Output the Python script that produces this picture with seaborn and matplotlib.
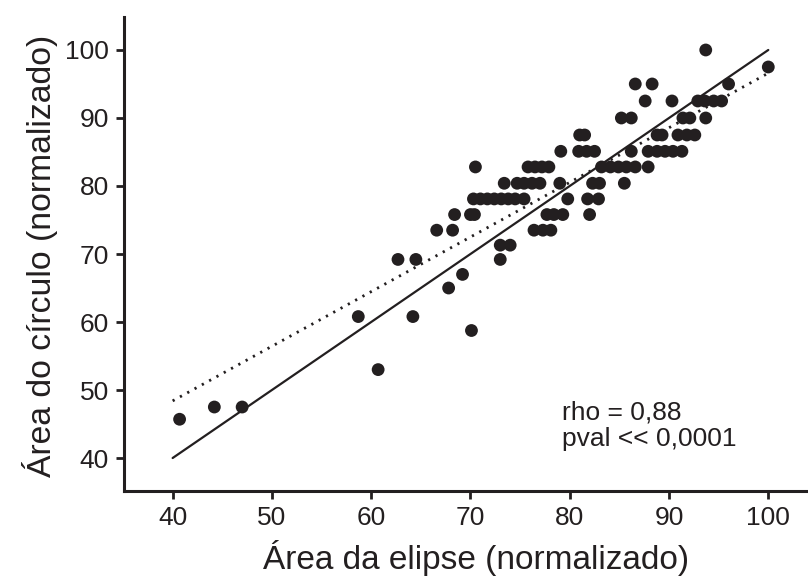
import numpy as np
import pandas as pd
import matplotlib
matplotlib.use("Agg")
import matplotlib.pyplot as plt
import seaborn as sns

# ---- data ----
elipse = [
    93.7,
    100.0,
    86.6, 88.3, 96.0,
    87.6, 90.3, 92.9, 93.6, 94.5, 95.3,
    85.2, 86.2, 91.4, 92.1, 93.7,
    81.0, 81.5, 88.8, 89.3, 90.9, 91.8, 92.6,
    79.1, 80.9, 81.7, 82.5, 86.2, 87.9, 88.8, 89.6, 90.4, 91.3,
    70.5, 75.8, 76.5, 77.2, 77.9, 83.2, 84.1, 84.9, 85.7, 86.6, 87.9,
    73.4, 74.7, 75.4, 76.2, 77.0, 79.0, 82.3, 83.0, 85.5,
    70.3, 71.0, 71.7, 72.4, 73.1, 73.8, 74.5, 75.4, 79.8, 81.8, 82.9,
    68.4, 70.0, 70.4, 77.7, 78.4, 79.3, 82.0,
    66.6, 68.2, 76.4, 77.3, 78.1,
    73.0, 74.0,
    62.7, 64.5, 73.0,
    69.2,
    67.8,
    58.7, 64.2,
    70.1,
    60.7,
    44.2, 47.0,
    40.7,
]
circulo = (
    [100.0] * 1 + [97.5] * 1 + [95.0] * 3 + [92.5] * 6 + [90.0] * 5 +
    [87.5] * 7 + [85.1] * 10 + [82.8] * 11 + [80.4] * 9 + [78.1] * 11 +
    [75.8] * 7 + [73.5] * 5 + [71.3] * 2 + [69.2] * 3 + [67.0] * 1 +
    [65.0] * 1 + [60.8] * 2 + [58.75] * 1 + [53.0] * 1 + [47.5] * 2 +
    [45.7] * 1
)
identity_x = [40, 100]
fit_x = [40, 100]
fit_y = [48.4, 96.6]          # dotted fit line
x_ticks = [40, 50, 60, 70, 80, 90, 100]
y_ticks = [40, 50, 60, 70, 80, 90, 100]
annotation = "rho = 0,88\npval << 0,0001"

df = pd.DataFrame({"elipse": elipse, "circulo": circulo})

sns.set_theme(style="ticks")
plt.rcParams["font.family"] = ["Liberation Sans", "DejaVu Sans"]

ink = "#231f20"
fig = plt.figure(figsize=(8.08, 5.8), dpi=100)
ax = fig.add_axes([124 / 808, 89 / 580, 684 / 808, 474 / 580])

# identity line
sns.lineplot(x=identity_x, y=identity_x, color=ink, linewidth=1.6, ax=ax)

# fitted line (dotted)
sns.lineplot(x=fit_x, y=fit_y, color=ink, linewidth=2.0,
             linestyle=(0, (0.8, 2.2)), ax=ax)

sns.scatterplot(data=df, x="elipse", y="circulo", color=ink, s=85,
                edgecolor="none", linewidth=0, ax=ax, zorder=3)

ax.set_xlim(35.1, 104.0)
ax.set_ylim(35.15, 104.85)
ax.set_xticks(x_ticks)
ax.set_yticks(y_ticks)
sns.despine(ax=ax)
for s in ("left", "bottom"):
    ax.spines[s].set_linewidth(2.2)
    ax.spines[s].set_color(ink)
ax.tick_params(direction="out", length=6, width=2, color=ink,
               labelsize=19, labelcolor=ink, pad=5)

ax.set_xlabel("Área da elipse (normalizado)", fontsize=24, color=ink)
ax.set_ylabel("Área do círculo (normalizado)", fontsize=24.3, color=ink)
ax.xaxis.set_label_coords(0.515, -0.141)
ax.xaxis.label.set_va("center")
ax.yaxis.set_label_coords(-0.123, 0.497)
ax.yaxis.label.set_va("center")

ax.text(79.2, 48.4, annotation, fontsize=19, color=ink, va="top", ha="left",
        linespacing=1.12)

fig.savefig("out.png", dpi=100)
